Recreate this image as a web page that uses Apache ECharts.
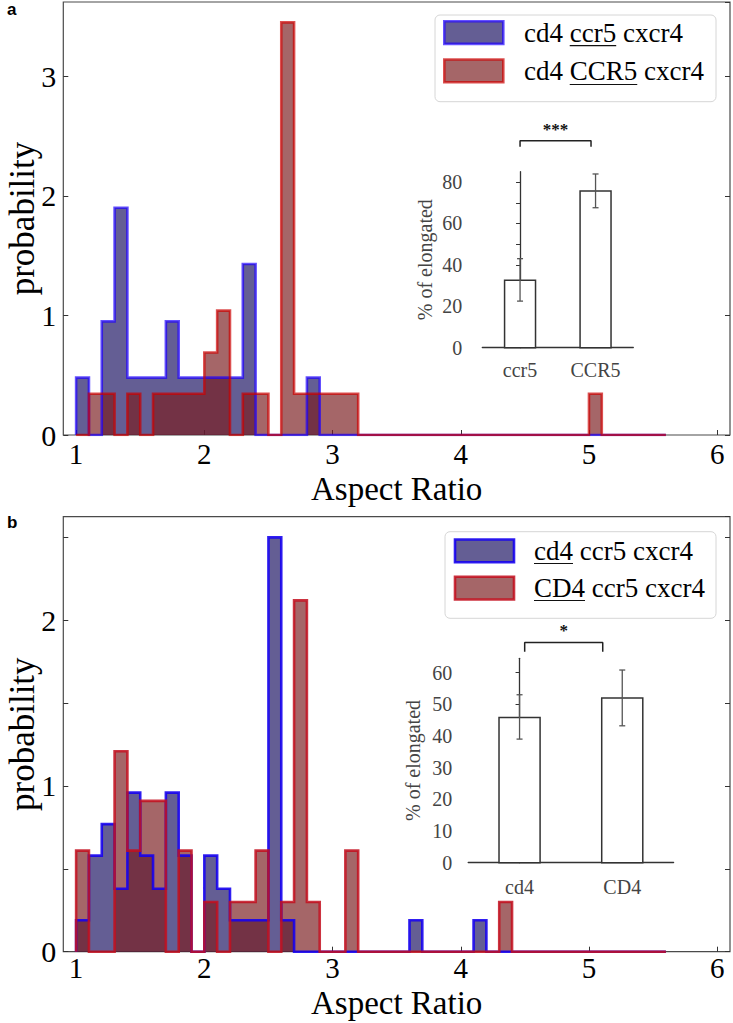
<!DOCTYPE html>
<html><head><meta charset="utf-8">
<script src="https://cdn.jsdelivr.net/npm/echarts@6/dist/echarts.min.js"></script>
<style>html,body{margin:0;padding:0;background:#fff}#c{width:733px;height:1023px}</style>
</head><body><div id="c"></div>
<script>
// ---------- DATA ----------
const binEdges = [1.0,1.1,1.2,1.3,1.4,1.5,1.6,1.7,1.8,1.9,2.0,2.1,2.2,2.3,2.4,2.5,2.6,2.7,2.8,2.9,3.0,3.1,3.2,3.3,3.4,3.5,3.6,3.7,3.8,3.9,4.0,4.1,4.2,4.3,4.4,4.5,4.6,4.7,4.8,4.9,5.0,5.1,5.2,5.3,5.4,5.5,5.6];

// panel a densities (one per bin)
const aBlue = [0.48,0,0.95,1.9,0.48,0.48,0.48,0.95,0.48,0.48,0.48,0.48,0.48,1.43,0,0,0,0,0.48,
  0,0,0,0,0,0,0,0,0,0,0,0,0,0,0,0,0,0,0,0,0,0,0,0,0,0,0];
const aRed = [0,0.345,0.345,0,0.345,0,0.345,0.345,0.345,0.345,0.69,1.04,0,0.345,0.345,0,3.45,0.345,0.345,0.345,0.345,0.345,
  0,0,0,0,0,0,0,0,0,0,0,0,0,0,0,0,0,0,0.345,0,0,0,0,0];
// panel b densities
const bBlue = [0.19,0.58,0.77,0.38,0.96,0.58,0.38,0.96,0.58,0,0.58,0.38,0.19,0.19,0.19,2.5,0.19,
  0,0,0,0,0,0,0,0,0,0.19,0,0,0,0,0.19,0,0,0,0,0,0,0,0,0,0,0,0,0,0];
const bRed = [0.61,0,0,1.21,0.61,0.91,0.91,0,0.61,0,0.3,0,0.3,0.3,0.61,0,0.3,2.12,0.3,0,0,0.61,
  0,0,0,0,0,0,0,0,0,0,0,0.3,0,0,0,0,0,0,0,0,0,0,0,0];

const xTicks = [1,2,3,4,5,6];
const aLegend = ['cd4 ', 'ccr5', ' cxcr4', 'cd4 ', 'CCR5', ' cxcr4'];
const bLegend = ['', 'cd4', ' ccr5 cxcr4', '', 'CD4', ' ccr5 cxcr4'];

// insets: % of elongated
const insA_cats = ['ccr5', 'CCR5'];
const insA_vals = [32.6, 75.7];
const insA_lo = [22.5, 67.6];
const insA_hi = [43, 83.9];
const insA_sigX = [0, 0.94];
const insA_sigY = [97, 100];
const insA_sigText = '***';

const insB_cats = ['cd4', 'CD4'];
const insB_vals = [45.8, 52];
const insB_lo = [39, 43.2];
const insB_hi = [53, 60.8];
const insB_sigX = [0.05, 0.81];
const insB_sigY = [66.6, 69.5];
const insB_sigText = '*';

// ---------- STYLE ----------
const SERIF = "'Liberation Serif','Times New Roman',serif";
const fillBlue = 'rgba(26,18,98,0.68)';
const fillRed = 'rgba(123,30,32,0.68)';
const edgeA = ['rgba(29,0,255,0.686)', 'rgba(204,0,0,0.686)'];
const edgeB = ['rgba(20,0,240,0.88)', 'rgba(195,15,30,0.85)'];

function steps(edges, dens) {
  const pts = [[edges[0], 0]];
  for (let i = 0; i < dens.length; i++) {
    pts.push([edges[i], dens[i]], [edges[i + 1], dens[i]]);
  }
  pts.push([edges[edges.length - 1], 0]);
  return pts;
}
function histSeries(name, xi, yi, dens, edge, fill) {
  return {
    type: 'line', name: name, xAxisIndex: xi, yAxisIndex: yi,
    data: steps(binEdges, dens), symbol: 'none', silent: true,
    lineStyle: { color: edge, width: 2.6, join: 'miter' },
    areaStyle: { color: fill, opacity: 1 }
  };
}
function barSeries(xi, yi, vals, w) {
  return {
    type: 'custom', xAxisIndex: xi, yAxisIndex: yi, silent: true,
    data: vals.map((v, i) => [i, v]),
    renderItem: function (p, api) {
      const x = api.value(0), y = api.value(1);
      const a = api.coord([x - w / 2, y]), b = api.coord([x + w / 2, 0]);
      return { type: 'rect', shape: { x: a[0], y: a[1], width: b[0] - a[0], height: b[1] - a[1] },
        style: { fill: '#fff', stroke: '#333', lineWidth: 1.5 } };
    }
  };
}
function errSeries(xi, yi, lo, hi) {
  return {
    type: 'custom', xAxisIndex: xi, yAxisIndex: yi, silent: true, z: 5,
    data: lo.map((l, i) => [i, l, hi[i]]),
    renderItem: function (p, api) {
      const a = api.coord([api.value(0), api.value(1)]), b = api.coord([api.value(0), api.value(2)]);
      const st = { stroke: '#555', lineWidth: 1.3 };
      return { type: 'group', children: [
        { type: 'line', shape: { x1: a[0], y1: a[1], x2: b[0], y2: b[1] }, style: st },
        { type: 'line', shape: { x1: a[0] - 3, y1: a[1], x2: a[0] + 3, y2: a[1] }, style: st },
        { type: 'line', shape: { x1: b[0] - 3, y1: b[1], x2: b[0] + 3, y2: b[1] }, style: st }
      ] };
    }
  };
}
function sigSeries(xi, yi, sx, sy, txt) {
  return [{
    type: 'line', xAxisIndex: xi, yAxisIndex: yi, silent: true, clip: false, symbol: 'none',
    data: [[sx[0], sy[0]], [sx[0], sy[1]], [sx[1], sy[1]], [sx[1], sy[0]]],
    lineStyle: { color: '#222', width: 1.5 }
  }, {
    type: 'custom', xAxisIndex: xi, yAxisIndex: yi, silent: true, clip: false,
    data: [[(sx[0] + sx[1]) / 2, sy[1]]],
    renderItem: function (p, api) {
      const c = api.coord([api.value(0), api.value(1)]);
      return { type: 'text', style: { text: txt, x: c[0], y: c[1] - 3, align: 'center', verticalAlign: 'bottom',
        font: "bold 17px " + SERIF, fill: '#111' } };
    }
  }];
}

function mainX(gi, gap, margin) {
  return {
    gridIndex: gi, type: 'value', min: 0.9, max: 6.1,
    axisLine: { show: false }, splitLine: { show: false },
    axisTick: { show: true, inside: true, length: 5, customValues: xTicks, lineStyle: { color: '#333' } },
    axisLabel: { customValues: xTicks, fontSize: 29, lineHeight: 29, fontFamily: SERIF, color: '#000', margin: margin },
    name: 'Aspect Ratio', nameLocation: 'middle', nameGap: gap, nameMoveOverlap: false,
    nameTextStyle: { fontSize: 33, lineHeight: 33, fontFamily: SERIF, color: '#000' }
  };
}
function mainY(gi, max, interval, pos) {
  const left = pos === 'left';
  return {
    gridIndex: gi, type: 'value', min: 0, max: max, interval: interval, position: pos,
    axisLine: { show: false }, splitLine: { show: false },
    axisTick: { show: true, inside: true, length: 5, lineStyle: { color: '#333' } },
    axisLabel: { show: left, fontSize: 30, fontFamily: SERIF, color: '#000', margin: 7,
      showMaxLabel: false,
      formatter: v => (Math.abs(v - Math.round(v)) < 1e-6 ? String(Math.round(v)) : '') },
    name: left ? 'probability' : '', nameLocation: 'middle', nameGap: 23, nameMoveOverlap: false,
    nameTextStyle: { fontSize: 35, lineHeight: 35, fontFamily: SERIF, color: '#000' }
  };
}
function insetX(gi, cats, margin) {
  return {
    gridIndex: gi, type: 'value', min: -0.5, max: 1.5,
    axisLine: { show: true, lineStyle: { color: '#333', width: 1.3 } },
    axisTick: { show: false }, splitLine: { show: false },
    axisLabel: { customValues: [0, 1], formatter: v => cats[Math.round(v)], fontSize: 20,
      fontFamily: SERIF, color: '#444', margin: margin }
  };
}
function insetY(gi, max, step, margin, gap) {
  return {
    gridIndex: gi, type: 'value', min: 0, max: max, interval: 10,
    axisLine: { show: true, lineStyle: { color: '#333', width: 1.3 } },
    axisTick: { show: true, length: 4, lineStyle: { color: '#333' } },
    splitLine: { show: false },
    axisLabel: { fontSize: 20, fontFamily: SERIF, color: '#444', margin: margin, showMaxLabel: false,
      formatter: v => (v % step === 0 ? String(v) : '') },
    name: '% of elongated', nameLocation: 'middle', nameGap: gap, nameMoveOverlap: false,
    nameTextStyle: { fontSize: 20, lineHeight: 20, fontFamily: SERIF, color: '#444' }
  };
}

// ---------- legend (graphic) ----------
const mctx = document.createElement('canvas').getContext('2d');
function tw(s, size) { mctx.font = size + 'px ' + SERIF; return mctx.measureText(s).width; }
function legendGroup(box, parts, edges, rowsY, underY) {
  const fs = 27, tx = box.tx;
  const els = [
    { type: 'rect', shape: { x: box.x, y: box.y, width: box.w, height: box.h, r: 5 },
      style: { fill: '#fff', stroke: '#d6d6d6', lineWidth: 1 } }
  ];
  const fills = [fillBlue, fillRed];
  for (let r = 0; r < 2; r++) {
    els.push({ type: 'rect', shape: { x: box.px, y: rowsY[r] - 11.3, width: 59, height: 22.7 },
      style: { fill: fills[r], stroke: edges[r], lineWidth: 2.6 } });
    const p = parts.slice(r * 3, r * 3 + 3);
    els.push({ type: 'text', style: { text: p.join(''), x: tx, y: rowsY[r], verticalAlign: 'middle',
      font: fs + 'px ' + SERIF, fill: '#000' } });
    const x0 = tx + tw(p[0], fs), x1 = x0 + tw(p[1], fs);
    els.push({ type: 'line', shape: { x1: x0, y1: underY[r], x2: x1, y2: underY[r] },
      style: { stroke: '#111', lineWidth: 1.2 } });
  }
  return { type: 'group', children: els };
}

const gridBase = { containLabel: false, outerBoundsMode: 'none' };
const option = {
  animation: false,
  backgroundColor: '#fff',
  grid: [
    Object.assign({ left: 63.3, top: 2, width: 666.7, height: 433, show: true, borderColor: '#4a4a4a', borderWidth: 1.2, backgroundColor: 'transparent' }, gridBase),
    Object.assign({ left: 63.3, top: 516.7, width: 666.7, height: 435, show: true, borderColor: '#4a4a4a', borderWidth: 1.2, backgroundColor: 'transparent' }, gridBase),
    Object.assign({ left: 482.3, top: 171.7, width: 151, height: 176 }, gridBase),
    Object.assign({ left: 468.2, top: 658.3, width: 205.4, height: 204.4 }, gridBase)
  ],
  xAxis: [mainX(0, 37, 4), mainX(1, 35, 2), insetX(2, insA_cats, 12), insetX(3, insB_cats, 14)],
  yAxis: [
    mainY(0, 3.62, 1, 'left'), mainY(0, 3.62, 1, 'right'),
    mainY(1, 2.625, 0.5, 'left'), mainY(1, 2.625, 0.5, 'right'),
    insetY(2, 85, 20, 20, 47), insetY(3, 64.5, 10, 16, 45)
  ],
  series: [
    histSeries('cd4 ccr5 cxcr4', 0, 0, aBlue, edgeA[0], fillBlue),
    histSeries('cd4 CCR5 cxcr4', 0, 0, aRed, edgeA[1], fillRed),
    histSeries('cd4 ccr5 cxcr4 (b)', 1, 2, bBlue, edgeB[0], fillBlue),
    histSeries('CD4 ccr5 cxcr4', 1, 2, bRed, edgeB[1], fillRed),
    barSeries(2, 4, insA_vals, 0.41),
    errSeries(2, 4, insA_lo, insA_hi),
    ...sigSeries(2, 4, insA_sigX, insA_sigY, insA_sigText),
    barSeries(3, 5, insB_vals, 0.4),
    errSeries(3, 5, insB_lo, insB_hi),
    ...sigSeries(3, 5, insB_sigX, insB_sigY, insB_sigText)
  ],
  graphic: [
    { type: 'text', left: 7, top: 1, style: { text: 'a', font: "bold 17px 'Liberation Sans',Arial,sans-serif", fill: '#000' } },
    { type: 'text', left: 7, top: 514, style: { text: 'b', font: "bold 17px 'Liberation Sans',Arial,sans-serif", fill: '#000' } },
    legendGroup({ x: 435, y: 15, w: 281, h: 86.7, px: 444.3, tx: 524 }, aLegend, edgeA, [32.5, 70.8], [45.7, 84.5]),
    legendGroup({ x: 445, y: 531.7, w: 271, h: 86.6, px: 455, tx: 534 }, bLegend, edgeB, [550.8, 588.1], [563.5, 600.5])
  ]
};

const chart = echarts.init(document.getElementById('c'), null, { renderer: 'svg', width: 733, height: 1023 });
chart.setOption(option);
</script>
</body></html>
